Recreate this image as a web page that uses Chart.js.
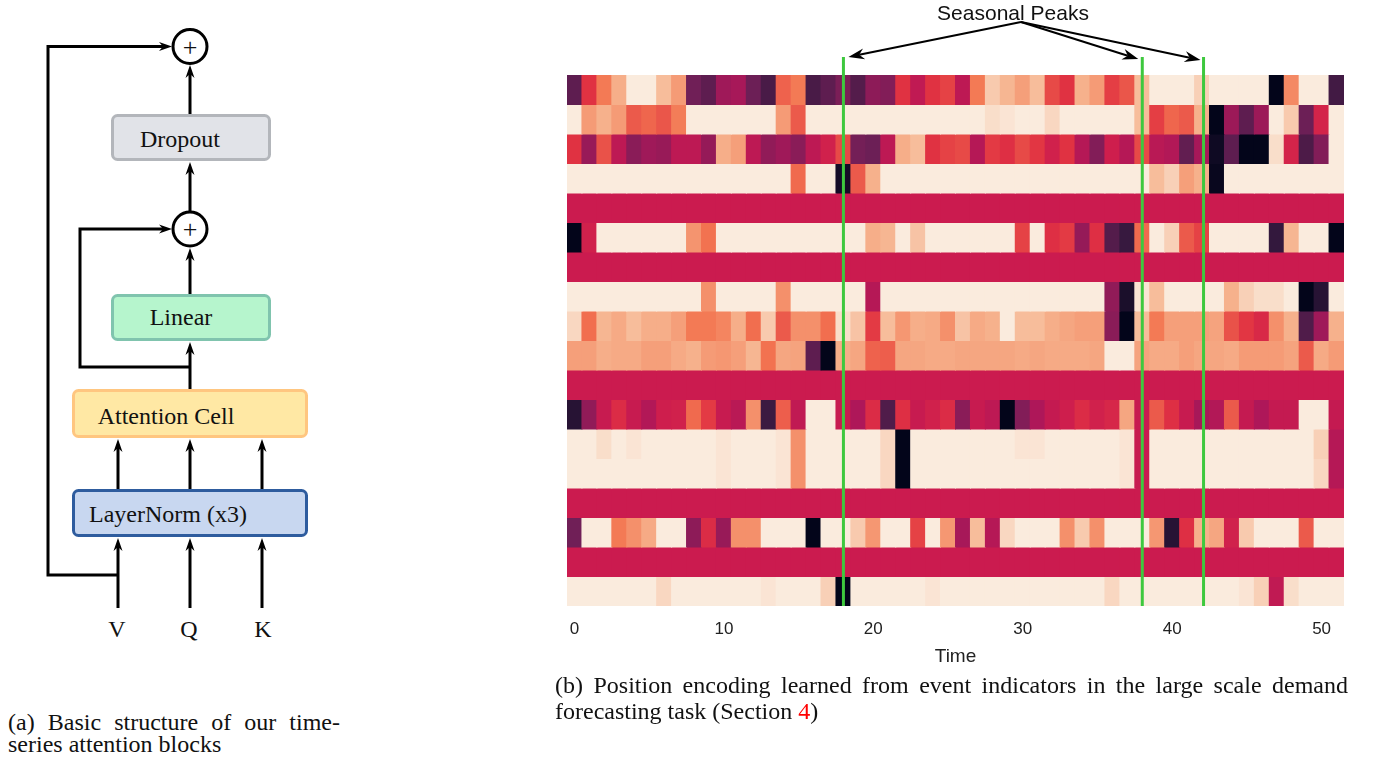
<!DOCTYPE html>
<html>
<head>
<meta charset="utf-8">
<title>Attention block and learned position encoding</title>
<script src="https://cdn.jsdelivr.net/npm/chart.js@4.4.1/dist/chart.umd.min.js"></script>
<style>
  body { margin: 0; background: #fff; }
  #page { position: relative; width: 1375px; height: 761px; overflow: hidden; background: #fff; }
  .serif { font-family: 'Liberation Serif', 'Times New Roman', serif; color: #111; }
  #diagram { position: absolute; left: 0; top: 0; }
  #pe-wrap { position: absolute; left: 540px; top: 0; }
  #peaks { position: absolute; left: 913px; top: 1.5px; width: 200px; text-align: center;
           font: 21px/21px 'Liberation Sans', Arial, sans-serif; color: #111; }
  .cap { position: absolute; font-size: 24px; }
  .cap .l1 { text-align: justify; text-align-last: justify; }
  #cap-a { left: 8px; top: 711px; width: 332px; line-height: 22px; }
  #cap-b { left: 555px; top: 672px; width: 793px; line-height: 26px; }
  .ref { color: #f00; }
</style>
</head>
<body>
<div id="page">
  <svg id="diagram" width="540" height="661" viewBox="0 0 540 661">
    <g fill="none" stroke="#000" stroke-width="3" stroke-linejoin="miter">
      <polyline points="118,575 48,575 48,46.5 162,46.5"/>
      <polyline points="190,367 80,367 80,229 162,229"/>
    </g>
    <rect x="112.5" y="115.5" width="157" height="44" rx="5" fill="#e1e3e8" stroke="#b3b6bb" stroke-width="3"/>
    <rect x="112.5" y="295.5" width="157" height="44" rx="5" fill="#b6f5cd" stroke="#80c4ae" stroke-width="3"/>
    <rect x="73.5" y="390.5" width="233" height="46" rx="5" fill="#ffe8a4" stroke="#ffc680" stroke-width="3"/>
    <rect x="73.5" y="490.5" width="233" height="45" rx="5" fill="#c8d7f0" stroke="#2e5c9e" stroke-width="3"/>
    <circle cx="190" cy="46.5" r="17" fill="#fff" stroke="#000" stroke-width="3"/>
    <circle cx="190" cy="229" r="17" fill="#fff" stroke="#000" stroke-width="3"/>
    <g id="diagram-arrows"></g>
    <g class="serif" font-family="'Liberation Serif', 'Times New Roman', serif" font-size="24" fill="#111" text-anchor="middle">
      <text x="190" y="55.5" font-size="26">+</text>
      <text x="190" y="238" font-size="26">+</text>
      <text x="180" y="147">Dropout</text>
      <text x="181" y="325">Linear</text>
      <text x="166" y="424">Attention Cell</text>
      <text x="168" y="522">LayerNorm (x3)</text>
      <text x="117" y="637">V</text>
      <text x="189" y="637">Q</text>
      <text x="263" y="637">K</text>
    </g>
  </svg>

  <div id="pe-wrap"><canvas id="pe-chart" width="820" height="680"></canvas></div>
  <div id="peaks">Seasonal Peaks</div>

  <div id="cap-a" class="cap serif">
    <div class="l1">(a) Basic structure of our time-</div>
    <div>series attention blocks</div>
  </div>
  <div id="cap-b" class="cap serif">
    <div class="l1">(b) Position encoding learned from event indicators in the large scale demand</div>
    <div>forecasting task (Section <span class="ref">4</span>)</div>
  </div>
</div>

<script>
// ---- learned position encoding heatmap (rows = encoding dims, cols = time) ----
const timeSteps = [0, 1, 2, 3, 4, 5, 6, 7, 8, 9, 10, 11, 12, 13, 14, 15, 16, 17, 18, 19,
  20, 21, 22, 23, 24, 25, 26, 27, 28, 29, 30, 31, 32, 33, 34, 35, 36, 37, 38, 39,
  40, 41, 42, 43, 44, 45, 46, 47, 48, 49, 50, 51];
const xTickLabels = [0, 10, 20, 30, 40, 50];
const peakSteps = [18, 38, 42.1]; // green "seasonal peak" markers

// values on the colour scale (0 = black, 1 = cream)
const pe0 = [0.2, 0.58, 0.76, 0.9, 1, 1, 0.93, 0.85, 0.25, 0.2, 0.38, 0.4, 0.24, 0.14, 0.7, 0.76, 0.14, 0.2, 0.28, 0.17,
  0.33, 0.3, 0.58, 0.47, 0.58, 0.62, 0.46, 0.76, 0.95, 0.92, 0.86, 0.93, 0.64, 0.58, 0.91, 0.85, 0.61, 0.67, 0.93, 1,
  1, 1, 0.96, 1, 1, 1, 1, 0, 0.8, 1, 1, 0.12];
const pe1 = [1, 0.85, 0.91, 0.85, 0.68, 0.71, 0.67, 0.77, 1, 1, 1, 1, 1, 1, 0.85, 0.68, 1, 1, 1, 1,
  1, 1, 1, 1, 1, 1, 1, 1, 0.98, 0.99, 1, 1, 0.97, 1, 1, 1, 1, 1, 0.93, 0.61,
  0.71, 0.68, 0.91, 0, 0.37, 0.2, 0.37, 1, 0.95, 0.24, 0.53, 1];
const pe2 = [0.58, 0.36, 0.66, 0.46, 0.32, 0.38, 0.36, 0.46, 0.46, 0.35, 0.9, 0.86, 0.46, 0.34, 0.38, 0.32, 0.46, 0.52, 0.64, 0.26,
  0.24, 0.46, 0.9, 0.93, 0.58, 0.62, 0.64, 0.44, 0.6, 0.57, 0.64, 0.59, 0.52, 0.58, 0.44, 0.3, 0.51, 0.44, 0.64, 0.45,
  0.43, 0.21, 0.4, 0.02, 0.2, 0, 0, 0.98, 0.53, 0.15, 0.3, 1];
const pe3 = [1, 1, 1, 1, 1, 1, 1, 1, 1, 1, 1, 1, 1, 1, 1, 0.72, 1, 1, 0.03, 0.68,
  0.91, 1, 1, 1, 1, 1, 1, 1, 1, 1, 1, 1, 1, 1, 1, 1, 1, 1, 1, 0.93,
  0.96, 0.86, 0.91, 0.01, 1, 1, 1, 1, 1, 1, 1, 1];
const pe4 = [0.5, 0.5, 0.5, 0.5, 0.5, 0.5, 0.5, 0.5, 0.5, 0.5, 0.5, 0.5, 0.5, 0.5, 0.5, 0.5, 0.5, 0.5, 0.5, 0.5,
  0.5, 0.5, 0.5, 0.5, 0.5, 0.5, 0.5, 0.5, 0.5, 0.5, 0.5, 0.5, 0.5, 0.5, 0.5, 0.5, 0.5, 0.5, 0.5, 0.5,
  0.5, 0.5, 0.5, 0.5, 0.5, 0.5, 0.5, 0.5, 0.5, 0.5, 0.5, 0.5];
const pe5 = [0, 0.52, 1, 1, 1, 1, 1, 1, 0.83, 0.74, 1, 1, 1, 1, 1, 1, 1, 1, 1, 1,
  0.9, 0.92, 1, 0.94, 1, 1, 1, 1, 1, 1, 0.62, 1, 0.57, 0.6, 0.35, 0.57, 0.17, 0.09, 0.72, 1,
  0.96, 0.68, 0.62, 1, 1, 1, 1, 0.08, 0.92, 1, 1, 0];
const pe6 = [0.5, 0.5, 0.5, 0.5, 0.5, 0.5, 0.5, 0.5, 0.5, 0.5, 0.5, 0.5, 0.5, 0.5, 0.5, 0.5, 0.5, 0.5, 0.5, 0.5,
  0.5, 0.5, 0.5, 0.5, 0.5, 0.5, 0.5, 0.5, 0.5, 0.5, 0.5, 0.5, 0.5, 0.5, 0.5, 0.5, 0.5, 0.5, 0.5, 0.5,
  0.5, 0.5, 0.5, 0.5, 0.5, 0.5, 0.5, 0.5, 0.5, 0.5, 0.5, 0.5];
const pe7 = [1, 1, 1, 1, 1, 1, 1, 1, 1, 0.82, 1, 1, 1, 1, 0.82, 1, 1, 1, 1, 1,
  0.44, 1, 1, 1, 1, 1, 1, 1, 1, 1, 1, 1, 1, 1, 1, 1, 0.34, 0.04, 0.99, 0.93,
  1, 1, 1, 1, 0.91, 0.96, 0.98, 0.98, 1, 0, 0.06, 1];
const pe8 = [0.97, 0.73, 0.92, 0.89, 0.93, 0.9, 0.9, 0.86, 0.76, 0.76, 0.79, 0.9, 0.73, 0.95, 0.68, 0.82, 0.82, 0.73, 0.98, 0.94,
  0.6, 0.93, 0.84, 0.9, 0.89, 0.82, 0.94, 0.89, 0.91, 1, 0.93, 0.93, 0.9, 0.88, 0.86, 0.86, 0.32, 0, 0.93, 0.76,
  0.86, 0.86, 0.86, 0.87, 0.66, 0.59, 0.55, 0.82, 0.91, 0.16, 0.38, 0.91];
const pe9 = [0.86, 0.86, 0.9, 0.89, 0.89, 0.86, 0.86, 0.89, 0.91, 0.85, 0.84, 0.86, 0.92, 0.74, 0.88, 0.87, 0.2, 0, 0.9, 0.88,
  0.7, 0.69, 0.88, 0.88, 0.89, 0.89, 0.88, 0.88, 0.88, 0.88, 0.89, 0.88, 0.89, 0.89, 0.89, 0.88, 1, 1, 0.87, 0.89,
  0.89, 0.86, 0.88, 0.88, 0.89, 0.85, 0.85, 0.85, 0.87, 0.68, 0.89, 0.85];
const pe10 = [0.5, 0.5, 0.5, 0.5, 0.5, 0.5, 0.5, 0.5, 0.5, 0.5, 0.5, 0.5, 0.5, 0.5, 0.5, 0.5, 0.5, 0.5, 0.5, 0.5,
  0.5, 0.5, 0.5, 0.5, 0.5, 0.5, 0.5, 0.5, 0.5, 0.5, 0.5, 0.5, 0.5, 0.5, 0.5, 0.5, 0.5, 0.5, 0.5, 0.5,
  0.5, 0.5, 0.5, 0.5, 0.5, 0.5, 0.5, 0.5, 0.5, 0.5, 0.5, 0.5];
const pe11 = [0.06, 0.34, 0.49, 0.56, 0.49, 0.43, 0.51, 0.52, 0.72, 0.6, 0.49, 0.45, 0.82, 0.1, 0.69, 0.47, 1, 1, 0.49, 0.42,
  0.56, 0.16, 0.57, 0.49, 0.52, 0.56, 0.32, 0.49, 0.46, 0, 0.3, 0.42, 0.48, 0.51, 0.56, 0.52, 0.54, 0.88, 0.49, 0.68,
  0.57, 0.49, 0.4, 0.43, 0.68, 0.48, 0.42, 0.48, 0.48, 1, 1, 0.48];
const pe12 = [1, 1, 0.98, 1, 0.99, 1, 1, 1, 1, 1, 0.99, 1, 1, 1, 0.99, 0.82, 1, 1, 1, 1,
  1, 0.97, 0, 1, 1, 1, 1, 1, 1, 1, 0.99, 0.99, 1, 1, 1, 1, 1, 0.99, 0.49, 1,
  1, 1, 1, 1, 1, 1, 1, 1, 1, 1, 0.96, 0.44];
const pe13 = [1, 1, 1, 1, 1, 1, 1, 1, 1, 1, 0.99, 1, 1, 1, 0.99, 0.82, 1, 1, 1, 1,
  1, 0.97, 0, 1, 1, 1, 1, 1, 1, 1, 1, 1, 1, 1, 1, 1, 1, 0.99, 0.49, 1,
  1, 1, 1, 1, 1, 1, 1, 1, 1, 1, 0.97, 0.44];
const pe14 = [0.5, 0.5, 0.5, 0.5, 0.5, 0.5, 0.5, 0.5, 0.5, 0.5, 0.5, 0.5, 0.5, 0.5, 0.5, 0.5, 0.5, 0.5, 0.5, 0.5,
  0.5, 0.5, 0.5, 0.5, 0.5, 0.5, 0.5, 0.5, 0.5, 0.5, 0.5, 0.5, 0.5, 0.5, 0.5, 0.5, 0.5, 0.5, 0.5, 0.5,
  0.5, 0.5, 0.5, 0.5, 0.5, 0.5, 0.5, 0.5, 0.5, 0.5, 0.5, 0.5];
const pe15 = [0.25, 1, 1, 0.76, 0.82, 0.89, 1, 1, 0.33, 0.56, 0.36, 0.82, 0.82, 1, 1, 1, 0, 1, 1, 0.95,
  0.84, 1, 1, 0.62, 1, 0.84, 0.4, 0.93, 0.44, 0.97, 1, 1, 1, 0.82, 0.95, 0.82, 1, 1, 1, 0.84,
  0.06, 0.57, 0.91, 0.88, 0.52, 0.95, 1, 1, 1, 0.68, 1, 1];
const pe16 = [0.5, 0.5, 0.5, 0.5, 0.5, 0.5, 0.5, 0.5, 0.5, 0.5, 0.5, 0.5, 0.5, 0.5, 0.5, 0.5, 0.5, 0.5, 0.5, 0.5,
  0.5, 0.5, 0.5, 0.5, 0.5, 0.5, 0.5, 0.5, 0.5, 0.5, 0.5, 0.5, 0.5, 0.5, 0.5, 0.5, 0.5, 0.5, 0.5, 0.5,
  0.5, 0.5, 0.5, 0.5, 0.5, 0.5, 0.5, 0.5, 0.5, 0.5, 0.5, 0.5];
const pe17 = [1, 1, 1, 1, 1, 1, 0.97, 1, 1, 1, 1, 1, 1, 0.99, 1, 1, 1, 0.96, 0, 1,
  1, 1, 1, 1, 0.99, 1, 1, 1, 1, 1, 1, 1, 1, 1, 1, 1, 0.97, 1, 1, 1,
  1, 1, 1, 1, 1, 0.99, 0.96, 0.47, 0.98, 1, 1, 1];

const encodingRows = [pe0, pe1, pe2, pe3, pe4, pe5, pe6, pe7, pe8, pe9,
  pe10, pe11, pe12, pe13, pe14, pe15, pe16, pe17];

// seaborn "rocket"-like colour map
const rocketStops = [
  [0, '#03051a'], [0.083, '#35193e'], [0.25, '#701f57'], [0.417, '#ad1759'],
  [0.5, '#cb1b4f'], [0.583, '#e13342'], [0.75, '#f37651'], [0.917, '#f6b48f'], [1, '#faebdd'],
];
const hexRgb = h => [1, 3, 5].map(i => parseInt(h.slice(i, i + 2), 16));
function rocket(v) {
  for (let i = 1; i < rocketStops.length; i++) {
    const [v1, c1] = rocketStops[i];
    if (v <= v1) {
      const [v0, c0] = rocketStops[i - 1];
      const t = (v - v0) / (v1 - v0);
      const a = hexRgb(c0), b = hexRgb(c1);
      return `rgb(${a.map((c, k) => Math.round(c + (b[k] - c) * t)).join(',')})`;
    }
  }
  return rocketStops[rocketStops.length - 1][1];
}

// ---- left block diagram arrows ----
function svgArrow(g, x1, y1, x2, y2) {
  const len = Math.hypot(x2 - x1, y2 - y1);
  const dx = (x2 - x1) / len, dy = (y2 - y1) / len;
  const L = 13, W = 4.5, N = 9;
  const ns = 'http://www.w3.org/2000/svg';
  const line = document.createElementNS(ns, 'line');
  line.setAttribute('x1', x1); line.setAttribute('y1', y1);
  line.setAttribute('x2', x2 - dx * N); line.setAttribute('y2', y2 - dy * N);
  line.setAttribute('stroke', '#000'); line.setAttribute('stroke-width', 3);
  g.appendChild(line);
  const head = document.createElementNS(ns, 'polygon');
  const pts = [
    [x2, y2],
    [x2 - dx * L - dy * W, y2 - dy * L + dx * W],
    [x2 - dx * N, y2 - dy * N],
    [x2 - dx * L + dy * W, y2 - dy * L - dx * W],
  ];
  head.setAttribute('points', pts.map(p => p.join(',')).join(' '));
  head.setAttribute('fill', '#000');
  g.appendChild(head);
}
const ag = document.getElementById('diagram-arrows');
svgArrow(ag, 162, 46.5, 172, 46.5);
svgArrow(ag, 162, 229, 172, 229);
svgArrow(ag, 190, 114, 190, 65);
svgArrow(ag, 190, 211, 190, 162);
svgArrow(ag, 190, 294, 190, 248);
svgArrow(ag, 190, 389, 190, 342);
[118, 190, 262].forEach(x => {
  svgArrow(ag, x, 489, x, 439);
  svgArrow(ag, x, 608, x, 538);
});

// ---- annotation: green peak lines + arrows from the label ----
const peakMarks = {
  id: 'peakMarks',
  afterDatasetsDraw(chart) {
    const { ctx, chartArea } = chart;
    const x = chart.scales.x;
    const step = x.getPixelForValue(1) - x.getPixelForValue(0);
    const px = v => x.getPixelForValue(0) + v * step;
    ctx.save();
    ctx.strokeStyle = '#3ec83e';
    ctx.lineWidth = 3;
    peakSteps.forEach(v => {
      ctx.beginPath();
      ctx.moveTo(px(v), 57);
      ctx.lineTo(px(v), chartArea.bottom);
      ctx.stroke();
    });
    // arrows start under the "Seasonal Peaks" label
    const src = [481, 22];
    const tips = [[px(peakSteps[0]) + 5, 57], [px(peakSteps[1]) - 4, 59], [px(peakSteps[2]) - 3, 60]];
    ctx.strokeStyle = '#000';
    ctx.fillStyle = '#000';
    ctx.lineWidth = 2;
    tips.forEach(([tx, ty]) => {
      const len = Math.hypot(tx - src[0], ty - src[1]);
      const dx = (tx - src[0]) / len, dy = (ty - src[1]) / len;
      const L = 16, W = 5.5, N = 11;
      ctx.beginPath();
      ctx.moveTo(src[0], src[1]);
      ctx.lineTo(tx - dx * N, ty - dy * N);
      ctx.stroke();
      ctx.beginPath();
      ctx.moveTo(tx, ty);
      ctx.lineTo(tx - dx * L - dy * W, ty - dy * L + dx * W);
      ctx.lineTo(tx - dx * N, ty - dy * N);
      ctx.lineTo(tx - dx * L + dy * W, ty - dy * L - dx * W);
      ctx.closePath();
      ctx.fill();
    });
    ctx.restore();
  },
};

const sans = "'Liberation Sans', Arial, sans-serif";

new Chart(document.getElementById('pe-chart').getContext('2d'), {
  type: 'bar',
  data: {
    labels: timeSteps.map(String),
    datasets: encodingRows.map((vals, r) => ({
      label: 'dim ' + r,
      data: timeSteps.map(() => [r, r + 1]),
      backgroundColor: vals.map(rocket),
      borderWidth: 0,
      barPercentage: 1,
      categoryPercentage: 1,
      grouped: false,
      inflateAmount: 0.5,
    })),
  },
  plugins: [peakMarks],
  options: {
    responsive: false,
    animation: false,
    events: [],
    layout: { padding: { top: 75, left: 27, right: 16, bottom: 0 } },
    plugins: { legend: { display: false }, tooltip: { enabled: false } },
    scales: {
      x: {
        type: 'category',
        offset: true,
        grid: { display: false, drawTicks: false },
        border: { display: false },
        ticks: {
          autoSkip: false, maxRotation: 0, padding: 13, color: '#222',
          font: { family: sans, size: 17 },
          callback(val) {
            const lab = this.getLabelForValue(val);
            return xTickLabels.includes(Number(lab)) ? lab : '';
          },
        },
        title: { display: true, text: 'Time', color: '#222', font: { family: sans, size: 19 }, padding: { top: 2, bottom: 12 } },
        afterFit(s) { s.height = 74; },
      },
      y: { type: 'linear', min: 0, max: 18, reverse: true, display: false },
    },
  },
});
</script>
</body>
</html>
